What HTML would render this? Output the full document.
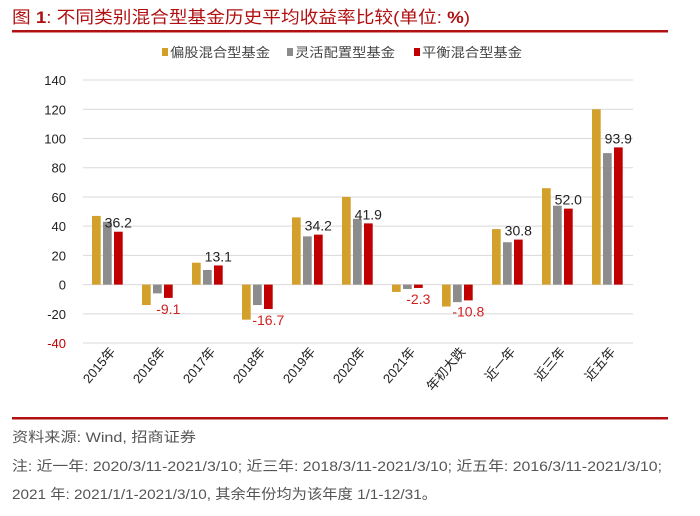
<!DOCTYPE html>
<html><head><meta charset="utf-8"><style>
body{margin:0;background:#fff;width:700px;height:511px;overflow:hidden}
svg text{font-family:"Liberation Sans","Noto Sans CJK SC",sans-serif}
</style></head><body>
<svg width="700" height="511" xmlns="http://www.w3.org/2000/svg">
<text x="12" y="23" font-size="17" fill="#b01010" textLength="458" lengthAdjust="spacingAndGlyphs">图 <tspan font-weight="bold">1</tspan>: 不同类别混合型基金历史平均收益率比较(单位: <tspan font-weight="bold">%</tspan>)</text>
<rect x="12" y="30" width="656" height="2.5" fill="#b01010"/>
<g font-size="13" fill="#444">
<rect x="162" y="48" width="6" height="8" fill="#d4a02c"/><text x="170" y="57" textLength="100" lengthAdjust="spacingAndGlyphs">偏股混合型基金</text>
<rect x="287" y="48" width="6" height="8" fill="#8c8c8c"/><text x="295" y="57" textLength="100" lengthAdjust="spacingAndGlyphs">灵活配置型基金</text>
<rect x="414" y="48" width="6" height="8" fill="#c00000"/><text x="422" y="57" textLength="100" lengthAdjust="spacingAndGlyphs">平衡混合型基金</text>
</g>
<g id="grid" stroke="#d9d9d9" stroke-width="1"></g>
<g id="ticks" font-size="13" fill="#222" text-anchor="end"></g>
<g id="bars"></g>
<g id="cats" font-size="13" fill="#222"></g>
<rect x="12" y="417" width="656" height="2.5" fill="#b01010"/>
<g font-size="14" fill="#555">
<text x="12" y="442" textLength="184" lengthAdjust="spacingAndGlyphs">资料来源: Wind, 招商证券</text>
<text x="12" y="471" textLength="650" lengthAdjust="spacingAndGlyphs">注: 近一年: 2020/3/11-2021/3/10; 近三年: 2018/3/11-2021/3/10; 近五年: 2016/3/11-2021/3/10;</text>
<text x="12" y="499" textLength="425" lengthAdjust="spacingAndGlyphs">2021 年: 2021/1/1-2021/3/10, 其余年份均为该年度 1/1-12/31。</text>
</g>
</svg>
<script>
const ns="http://www.w3.org/2000/svg";
function el(t,a,p,txt){const e=document.createElementNS(ns,t);for(const k in a)e.setAttribute(k,a[k]);if(txt!==undefined)e.textContent=txt;document.getElementById(p).appendChild(e);}
const y0=284.6,s=1.461;const Y=v=>y0-v*s;
for(let v=-40;v<=140;v+=20){el("line",{x1:83,x2:633,y1:Y(v),y2:Y(v)},"grid");el("text",{x:66,y:Y(v)+5,fill:v==-40?"#c00000":"#222"},"ticks",v);}
const cats=["2015年","2016年","2017年","2018年","2019年","2020年","2021年","年初大跌","近一年","近三年","近五年"];
const d=[[47,43,36.2],[-14,-6,-9.1],[15,10,13.1],[-24,-14,-16.7],[46,33,34.2],[60,45,41.9],[-5,-3,-2.3],[-15,-12,-10.8],[38,29,30.8],[66,54,52.0],[120,90,93.9]];
const cols=["#d4a02c","#8c8c8c","#c00000"];
d.forEach((g,i)=>{const gx=92+i*50;g.forEach((v,j)=>{const x=gx+j*11;const y=Math.min(Y(v),y0);el("rect",{x:x,y:y,width:8.7,height:Math.abs(v)*s,fill:cols[j]},"bars");});
const v=g[2],cx=gx+22+4.3;
if(v>=0)el("text",{x:cx,y:Y(v)-4,"font-size":14,fill:"#222","text-anchor":"middle"},"bars",v.toFixed(1));
else el("text",{x:cx,y:Y(v)+16,"font-size":14,fill:"#d02020","text-anchor":"middle"},"bars",v.toFixed(1));
const tx=116+i*50;el("text",{x:tx,y:352,"text-anchor":"end",transform:`rotate(-50 ${tx} 352)`},"cats",cats[i]);});
</script>
</body></html>
